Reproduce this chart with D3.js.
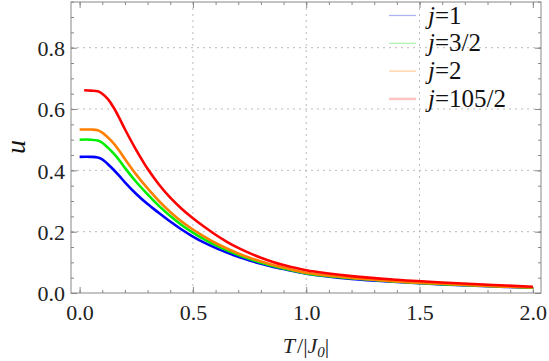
<!DOCTYPE html>
<html>
<head>
<meta charset="utf-8">
<script src="https://cdn.jsdelivr.net/npm/d3@7"></script>
<style>
  body { margin: 0; background: #fff; }
  svg { display: block; }
  .tick text { font-family: "Liberation Serif", "DejaVu Serif", serif; font-size: 22px; fill: #222; }
</style>
</head>
<body>
<div id="chart"></div>
<script>
// values
var temps = [0, 0.05, 0.08, 0.1, 0.125, 0.15, 0.175, 0.2, 0.25, 0.3, 0.35, 0.4, 0.45, 0.5,
             0.55, 0.6, 0.65, 0.7, 0.75, 0.8, 0.85, 0.9, 1.0, 1.2, 1.4, 1.6, 1.8, 2.0];
var redTemps = [0.02, 0.05, 0.08, 0.1, 0.125, 0.15, 0.175, 0.2, 0.25, 0.3, 0.35, 0.4, 0.45, 0.5,
                0.55, 0.6, 0.65, 0.7, 0.75, 0.8, 0.85, 0.9, 1.0, 1.2, 1.4, 1.6, 1.8, 2.0];
var uJ1 = [0.444, 0.444, 0.442, 0.436, 0.420, 0.402, 0.382, 0.361, 0.323, 0.290, 0.261, 0.233, 0.207, 0.184,
           0.164, 0.147, 0.132, 0.118, 0.106, 0.095, 0.086, 0.078, 0.063, 0.046, 0.036, 0.028, 0.022, 0.017];
var uJ32 = [0.500, 0.500, 0.497, 0.490, 0.474, 0.455, 0.433, 0.408, 0.362, 0.322, 0.284, 0.251, 0.222, 0.197,
            0.175, 0.156, 0.139, 0.124, 0.111, 0.099, 0.089, 0.080, 0.064, 0.048, 0.037, 0.029, 0.023, 0.0175];
var uJ2 = [0.533, 0.533, 0.531, 0.523, 0.507, 0.488, 0.464, 0.437, 0.386, 0.341, 0.300, 0.264, 0.233, 0.207,
           0.184, 0.163, 0.145, 0.129, 0.115, 0.103, 0.092, 0.083, 0.066, 0.049, 0.038, 0.030, 0.023, 0.018];
var uJ1052 = [0.661, 0.660, 0.658, 0.650, 0.632, 0.605, 0.571, 0.534, 0.466, 0.405, 0.354, 0.311, 0.275, 0.244,
              0.216, 0.190, 0.167, 0.147, 0.130, 0.115, 0.102, 0.091, 0.074, 0.055, 0.043, 0.034, 0.027, 0.0205];
var seriesNames = ["1", "3/2", "2", "105/2"];
var xTicks = [0, 0.5, 1.0, 1.5, 2.0];
var yTicks = [0, 0.2, 0.4, 0.6, 0.8];

var series = [
    { name: seriesNames[0], xs: temps, ys: uJ1, color: "#0000ff", light: "#aab0f2", lw: 1.2 },
    { name: seriesNames[1], xs: temps, ys: uJ32, color: "#00ee00", light: "#aaf0aa", lw: 1.2 },
    { name: seriesNames[2], xs: temps, ys: uJ2, color: "#ff8000", light: "#ffcc99", lw: 1.2 },
    { name: seriesNames[3], xs: redTemps, ys: uJ1052, color: "#ff0000", light: "#ffc4c4", lw: 2.5 }
];

var W = 549, H = 361;
var margin = { top: 2, right: 8, bottom: 68, left: 71 },
    width = W - margin.left - margin.right,
    height = H - margin.top - margin.bottom;

var svg = d3.select("#chart").append("svg")
    .attr("width", W)
    .attr("height", H)
    .append("g")
    .attr("transform", "translate(" + margin.left + "," + margin.top + ")");

var xScale = d3.scaleLinear().domain([-0.038, 2.036]).range([0, width]);
var yScale = d3.scaleLinear().domain([0, 0.949]).range([height, 0]);

// dotted grid
svg.selectAll(".gx")
    .data([0.5, 1.0, 1.5])
    .enter().append("line")
    .attr("x1", function (d) { return xScale(d); })
    .attr("x2", function (d) { return xScale(d); })
    .attr("y1", 0).attr("y2", height)
    .style("stroke", "#bbb").style("stroke-dasharray", "2,4");

svg.selectAll(".gy")
    .data([0.2, 0.4, 0.6, 0.8])
    .enter().append("line")
    .attr("y1", function (d) { return yScale(d); })
    .attr("y2", function (d) { return yScale(d); })
    .attr("x1", 0).attr("x2", width)
    .style("stroke", "#bbb").style("stroke-dasharray", "2,4");

var xMinor = d3.range(0, 2.01, 0.1).map(function (v) { return +v.toFixed(2); });
var yMinor = d3.range(0, 0.951, 0.05).map(function (v) { return +v.toFixed(2); });

function styleAxis(g) {
    g.select(".domain").remove();
    g.selectAll(".tick line").style("stroke", "#888");
}

// major and minor ticks on all four sides, labels only bottom/left
svg.append("g").attr("transform", "translate(0," + height + ")")
    .call(d3.axisBottom(xScale).tickValues(xMinor).tickSize(-3).tickFormat(""))
    .call(styleAxis);
svg.append("g").attr("class", "x axis").attr("transform", "translate(0," + height + ")")
    .call(d3.axisBottom(xScale).tickValues(xTicks).tickSize(-6).tickPadding(11).tickFormat(d3.format(".1f")))
    .call(styleAxis);
svg.append("g")
    .call(d3.axisTop(xScale).tickValues(xMinor).tickSize(-3).tickFormat(""))
    .call(styleAxis);
svg.append("g")
    .call(d3.axisTop(xScale).tickValues(xTicks).tickSize(-6).tickFormat(""))
    .call(styleAxis);

svg.append("g")
    .call(d3.axisLeft(yScale).tickValues(yMinor).tickSize(-3).tickFormat(""))
    .call(styleAxis);
svg.append("g").attr("class", "y axis")
    .call(d3.axisLeft(yScale).tickValues(yTicks).tickSize(-6).tickPadding(6).tickFormat(d3.format(".1f")))
    .call(styleAxis);
svg.append("g").attr("transform", "translate(" + width + ",0)")
    .call(d3.axisRight(yScale).tickValues(yMinor).tickSize(-3).tickFormat(""))
    .call(styleAxis);
svg.append("g").attr("transform", "translate(" + width + ",0)")
    .call(d3.axisRight(yScale).tickValues(yTicks).tickSize(-6).tickFormat(""))
    .call(styleAxis);

svg.selectAll(".y.axis .tick text").attr("dy", "0.36em");

// frame
svg.append("rect")
    .attr("width", width).attr("height", height)
    .style("fill", "none").style("stroke", "#888").style("stroke-width", 1);

// curves
var line = d3.line()
    .x(function (d) { return xScale(d[0]); })
    .y(function (d) { return yScale(d[1]); })
    .curve(d3.curveCatmullRom.alpha(0.5));

series.forEach(function (s) {
    svg.append("path")
        .datum(d3.zip(s.xs, s.ys))
        .attr("d", line)
        .style("fill", "none")
        .style("stroke", s.color)
        .style("stroke-width", 2.6)
        .style("stroke-linejoin", "round");
});

// legend
var legend = svg.selectAll(".legend")
    .data(series)
    .enter().append("g")
    .attr("transform", function (d, i) { return "translate(" + (389 - margin.left) + "," + (15.5 + i * 27.8 - margin.top) + ")"; });

legend.append("line")
    .attr("x1", 0).attr("x2", 27)
    .style("stroke", function (d) { return d.light; })
    .style("stroke-width", function (d) { return d.lw; });

var lt = legend.append("text")
    .attr("x", 39).attr("y", 8)
    .style("font-family", "'Liberation Serif', 'DejaVu Serif', serif")
    .style("font-size", "25px")
    .style("fill", "#111");
lt.append("tspan").style("font-style", "italic").text("j");
lt.append("tspan").text(function (d) { return "=" + d.name; });

// axis labels
var xl = svg.append("text")
    .attr("x", width / 2).attr("y", height + 60)
    .attr("text-anchor", "middle")
    .style("font-family", "'Liberation Serif', 'DejaVu Serif', serif")
    .style("font-size", "22px")
    .style("fill", "#222");
xl.append("tspan").style("font-style", "italic").text("T");
xl.append("tspan").attr("dx", 2).text("/|");
xl.append("tspan").style("font-style", "italic").text("J");
xl.append("tspan").style("font-style", "italic").style("font-size", "15px").attr("dy", 4).text("0");
xl.append("tspan").attr("dy", -4).text("|");

svg.append("text")
    .attr("transform", "translate(" + (25 - margin.left) + "," + (147 - margin.top) + ") rotate(-90)")
    .attr("text-anchor", "middle")
    .style("font-family", "'Liberation Serif', 'DejaVu Serif', serif")
    .style("font-style", "italic")
    .style("font-size", "28px")
    .style("fill", "#111")
    .text("u");
</script>
</body>
</html>
